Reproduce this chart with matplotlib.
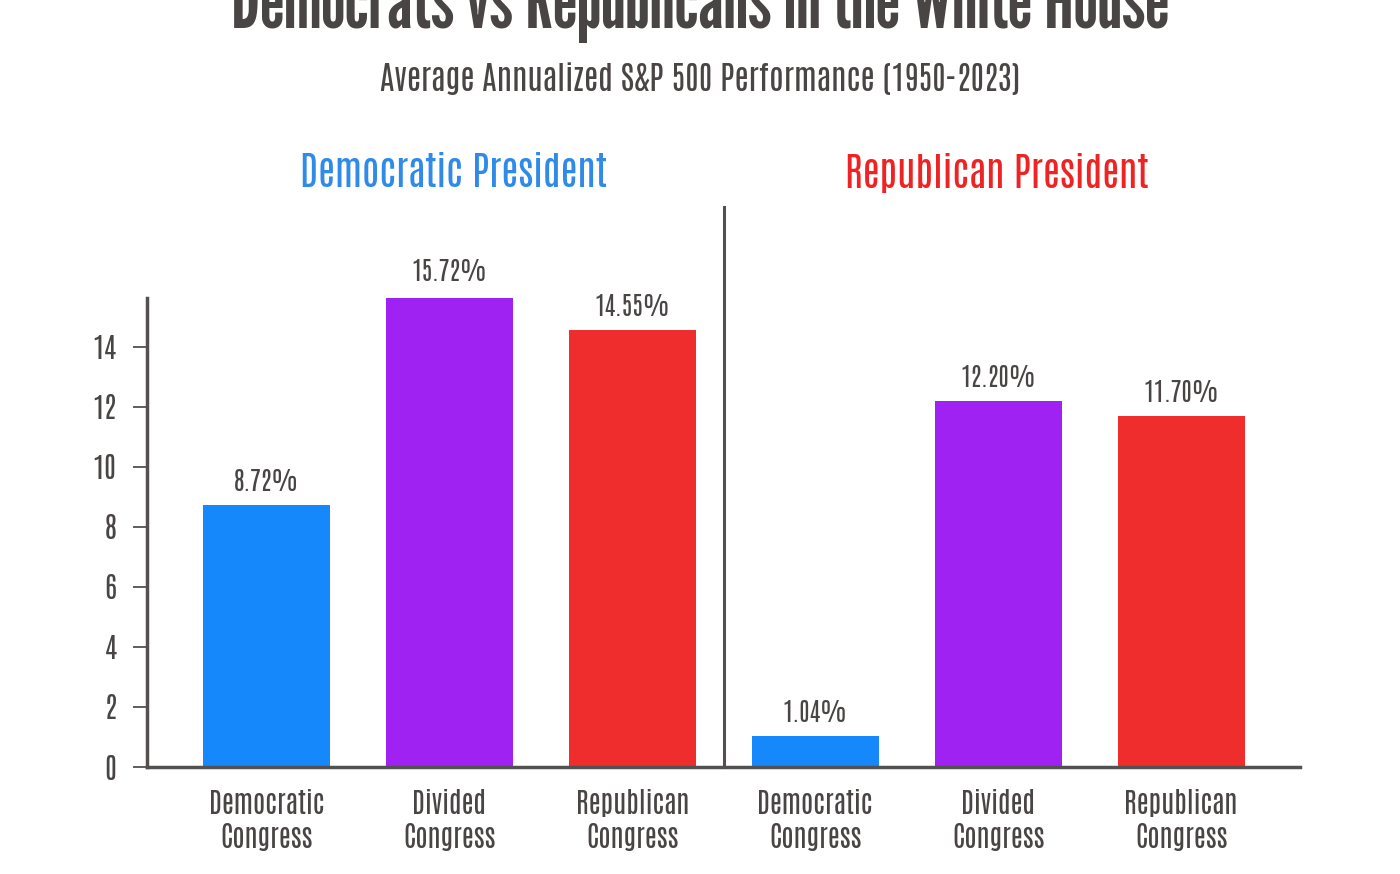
import matplotlib
matplotlib.use("Agg")
import matplotlib.pyplot as plt

# ---- data ----
presidents = ["Democratic President", "Republican President"]
congress = ["Democratic\nCongress", "Divided\nCongress", "Republican\nCongress"]
dem_pres_values = [8.72, 15.72, 14.55]
rep_pres_values = [1.04, 12.20, 11.70]
y_ticks = [0, 2, 4, 6, 8, 10, 12, 14]

title = "Democrats vs Republicans in the White House"
subtitle = "Average Annualized S&P 500 Performance (1950-2023)"

bar_colors = ["#1589fb", "#a022f2", "#ef2d2d"]
header_colors = ["#2f8ae8", "#ee2424"]
text_color = "#4a4545"
axis_color = "#555050"

FONT = ["Antonio", "Oswald", "DejaVu Sans"]
TITLE_FONT = ["League Gothic", "Oswald", "DejaVu Sans"]
plt.rcParams["font.family"] = FONT

fig = plt.figure(figsize=(14, 8.74), dpi=100)
renderer = fig.canvas.get_renderer()


def fit_size(text, family, target_px, weight="normal"):
    """font size that makes `text` about target_px wide"""
    t = fig.text(0, 0, text, fontsize=20, family=family, fontweight=weight)
    w = t.get_window_extent(renderer).width
    t.remove()
    return 20 * target_px / w


ax = fig.add_axes([147 / 1400, 1 - 767 / 874, (1300 - 147) / 1400, (767 - 298) / 874])

values = dem_pres_values + rep_pres_values
labels = congress + congress
x = list(range(len(values)))
colors = bar_colors + bar_colors
bars = ax.bar(x, values, width=0.694, color=colors, zorder=2)

ax.set_xlim(-0.653, 5.65)
ax.set_ylim(0, 15.63)
ax.set_yticks(y_ticks)
ax.set_yticklabels([str(t) for t in y_ticks])
ax.set_xticks(x)

for s in ["top", "right"]:
    ax.spines[s].set_visible(False)
for s in ["left", "bottom"]:
    ax.spines[s].set_color(axis_color)
    ax.spines[s].set_linewidth(2.5)

cat_fs = fit_size("Democratic", FONT, 116)
tick_fs = fit_size("14", FONT, 24)
val_fs = fit_size("15.72%", FONT, 76)
head_fs = fit_size(presidents[0], FONT, 306)
sub_fs = fit_size(subtitle, FONT, 640)
title_fs = fit_size(title, TITLE_FONT, 936, weight="bold")

ax.set_xticklabels(labels, linespacing=1.22)
ax.tick_params(axis="y", length=10, width=1.3, color=axis_color, labelsize=tick_fs,
               labelcolor=text_color, pad=12)
ax.tick_params(axis="x", length=0, labelsize=cat_fs, labelcolor=text_color, pad=16)

for b, v in zip(bars, values):
    ax.annotate(f"{v:.2f}%", (b.get_x() + b.get_width() / 2, v),
                xytext=(0, 8), textcoords="offset points", ha="center", va="bottom",
                fontsize=val_fs, color=text_color, annotation_clip=False)

# divider between the two panels
ax.plot([2.5, 2.5], [0, 18.67], color=axis_color, lw=2.2, clip_on=False, zorder=3)

# panel headers
ax.text(1.02, 19.8, presidents[0], ha="center", va="center", fontsize=head_fs,
        color=header_colors[0])
ax.text(3.99, 19.8, presidents[1], ha="center", va="center", fontsize=head_fs,
        color=header_colors[1])

fig.text(0.5, 1 - 28 / 874, title, ha="center", va="baseline", fontsize=title_fs,
         fontweight="bold", color=text_color, family=TITLE_FONT)
fig.text(0.5, 1 - 79 / 874, subtitle, ha="center", va="center", fontsize=sub_fs,
         color=text_color)

fig.savefig("out.png", dpi=100, facecolor="white")
